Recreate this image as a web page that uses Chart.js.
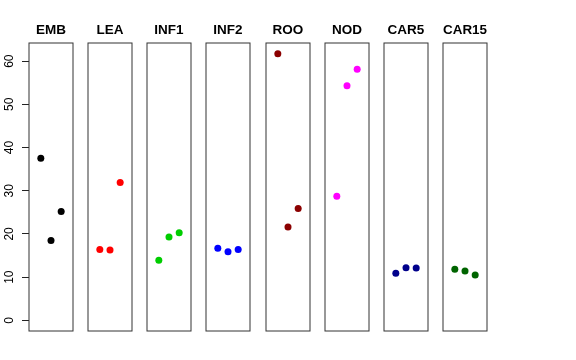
<!DOCTYPE html>
<html>
<head>
<meta charset="utf-8">
<script src="https://cdn.jsdelivr.net/npm/chart.js@4.4.0/dist/chart.umd.min.js"></script>
<style>
    body { margin: 0; background: white; }
    #wrap { position: relative; width: 576px; height: 360px; overflow: hidden; }
    #wrap canvas { position: absolute; top: 0; }
</style>
</head>
<body>
<div id="wrap"></div>
<script>
// panel names and the three values in each panel
var panels = ["EMB", "LEA", "INF1", "INF2", "ROO", "NOD", "CAR5", "CAR15"];
var emb = [37.5, 18.5, 25.2];
var lea = [16.4, 16.3, 31.9];
var inf1 = [13.9, 19.3, 20.3];
var inf2 = [16.7, 15.9, 16.4];
var roo = [61.7, 21.6, 25.9];
var nod = [28.7, 54.3, 58.1];
var car5 = [10.9, 12.2, 12.1];
var car15 = [11.8, 11.4, 10.5];
var values = [emb, lea, inf1, inf2, roo, nod, car5, car15];
var colors = ["black", "red", "#00CD00", "blue", "#8B0000", "magenta", "#00008B", "#006400"];
var yTicks = [0, 10, 20, 30, 40, 50, 60];

var panelLefts = [29, 88, 147, 206, 266, 325, 384, 443];
var panelWidth = 44;
var axisWidth = 29;
var side = 8;
var fontFamily = '"Liberation Sans", Arial, sans-serif';

// draws the box round each panel
var framePlugin = {
    id: 'frame',
    afterDraw: function (chart) {
        var a = chart.chartArea;
        var ctx = chart.ctx;
        ctx.save();
        ctx.strokeStyle = '#333';
        ctx.lineWidth = 1;
        ctx.strokeRect(a.left, a.top, a.right - a.left, a.bottom - a.top);
        ctx.restore();
    }
};

// y tick labels turned on their side, like the R axis
var sideLabels = {
    id: 'sideLabels',
    afterDraw: function (chart) {
        var scale = chart.scales.y;
        if (!scale.options.display) return;
        var ctx = chart.ctx;
        ctx.save();
        ctx.fillStyle = 'black';
        ctx.font = '12px ' + fontFamily;
        ctx.textAlign = 'center';
        ctx.textBaseline = 'middle';
        scale.ticks.forEach(function (t) {
            var y = scale.getPixelForValue(t.value);
            ctx.save();
            ctx.translate(9.5, y);
            ctx.rotate(-Math.PI / 2);
            ctx.fillText(String(t.value), 0, 0);
            ctx.restore();
        });
        ctx.restore();
    }
};

var wrap = document.getElementById('wrap');

for (var i = 0; i < panels.length; i++) {
    var first = (i === 0);
    var canvas = document.createElement('canvas');
    var left = first ? 0 : panelLefts[i] - side;
    var width = first ? axisWidth + panelWidth + side : panelWidth + 2 * side;
    canvas.width = width;
    canvas.height = 360;
    canvas.style.left = left + 'px';
    wrap.appendChild(canvas);

    var pts = values[i].map(function (v, j) { return {x: j + 1, y: v}; });

    var yScale = {
        type: 'linear',
        min: -2.47,
        max: 64.2,
        display: false
    };
    if (first) {
        yScale = {
            type: 'linear',
            min: -2.47,
            max: 64.2,
            display: true,
            afterBuildTicks: function (scale) {
                scale.ticks = yTicks.map(function (v) { return {value: v}; });
            },
            afterFit: function (scale) {
                scale.width = axisWidth;
            },
            border: {display: false},
            grid: {
                drawOnChartArea: false,
                drawTicks: true,
                tickLength: 7,
                color: '#222'
            },
            ticks: {display: false}
        };
    }

    new Chart(canvas.getContext('2d'), {
        type: 'scatter',
        data: {
            datasets: [{
                data: pts,
                backgroundColor: colors[i],
                borderWidth: 0,
                pointRadius: 3.5,
                pointHoverRadius: 3.5
            }]
        },
        options: {
            responsive: false,
            animation: false,
            events: [],
            layout: {
                padding: {top: 0, bottom: 29, left: first ? 0 : side, right: side}
            },
            plugins: {
                legend: {display: false},
                tooltip: {enabled: false},
                title: {
                    display: true,
                    text: panels[i],
                    fullSize: false,
                    color: 'black',
                    font: {family: fontFamily, size: 13.5, weight: 'bold', lineHeight: 1.2},
                    padding: {top: 22.5, bottom: 4.3}
                }
            },
            scales: {
                x: {
                    type: 'linear',
                    min: -0.16,
                    max: 4.16,
                    display: false
                },
                y: yScale
            }
        },
        plugins: [framePlugin, sideLabels]
    });
}
</script>
</body>
</html>
